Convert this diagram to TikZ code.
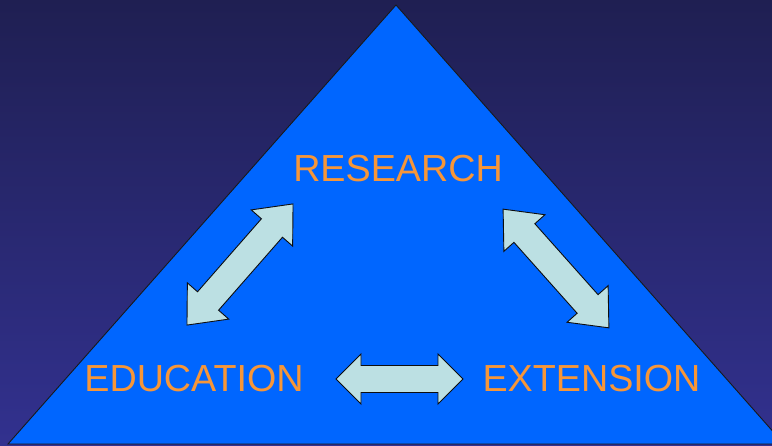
\documentclass[tikz,border=0pt]{standalone}
\usepackage{fontspec}
\setmainfont{Liberation Sans}
\usepackage{tikz}
\definecolor{bgtop}{RGB}{31,31,82}
\definecolor{bgbot}{RGB}{50,49,143}
\definecolor{tri}{RGB}{0,102,255}
\definecolor{word}{RGB}{247,150,56}
\definecolor{arrowfill}{RGB}{188,224,227}
% block arrow with two heads: center, angle, half length, shaft half width, head half width, head length
\newcommand{\fatarrow}[6]{%
    \begin{scope}[shift={#1}, rotate=#2]
        \draw[link] (-#3,0) -- ({-#3+#6},-#5) -- ({-#3+#6},-#4) -- ({#3-#6},-#4) -- ({#3-#6},-#5) -- (#3,0)
            -- ({#3-#6},#5) -- ({#3-#6},#4) -- ({-#3+#6},#4) -- ({-#3+#6},#5) -- cycle;
    \end{scope}}

\begin{document}
\begin{tikzpicture}[x=1pt, y=-1pt,
        word/.style={anchor=base, text=word, inner sep=0, font=\fontsize{37.7}{40}\selectfont},
        link/.style={draw=black!95, fill=arrowfill, line width=0.9pt, line join=miter}]
        \useasboundingbox (0,0) rectangle (772,446);
        \clip (0,0) rectangle (772,446);
        \shade[top color=bgtop, bottom color=bgbot] (0,0) rectangle (772,446);
        \draw[fill=tri, draw=black!90, line width=0.9pt] (8,444) -- (396,5) -- (784,444) -- cycle;
        % the three words
        \node[word] (res) at (398,182) {RESEARCH};
        \node[word] (edu) at (194,392) {EDUCATION};
        \node[word] (ext) at (591.5,392) {EXTENSION};
        % arrows between them
        \coordinate (resedu) at (240,264.5);
        \coordinate (resext) at (556,268.5);
        \coordinate (eduext) at (399.5,379);
        \fatarrow{(resedu)}{48.8}{80.5}{14}{27.5}{32}
        \fatarrow{(resext)}{-48.3}{79.5}{14}{27.5}{32}
        \fatarrow{(eduext)}{0}{63.5}{13.5}{25}{25}
    \end{tikzpicture}
\end{document}
